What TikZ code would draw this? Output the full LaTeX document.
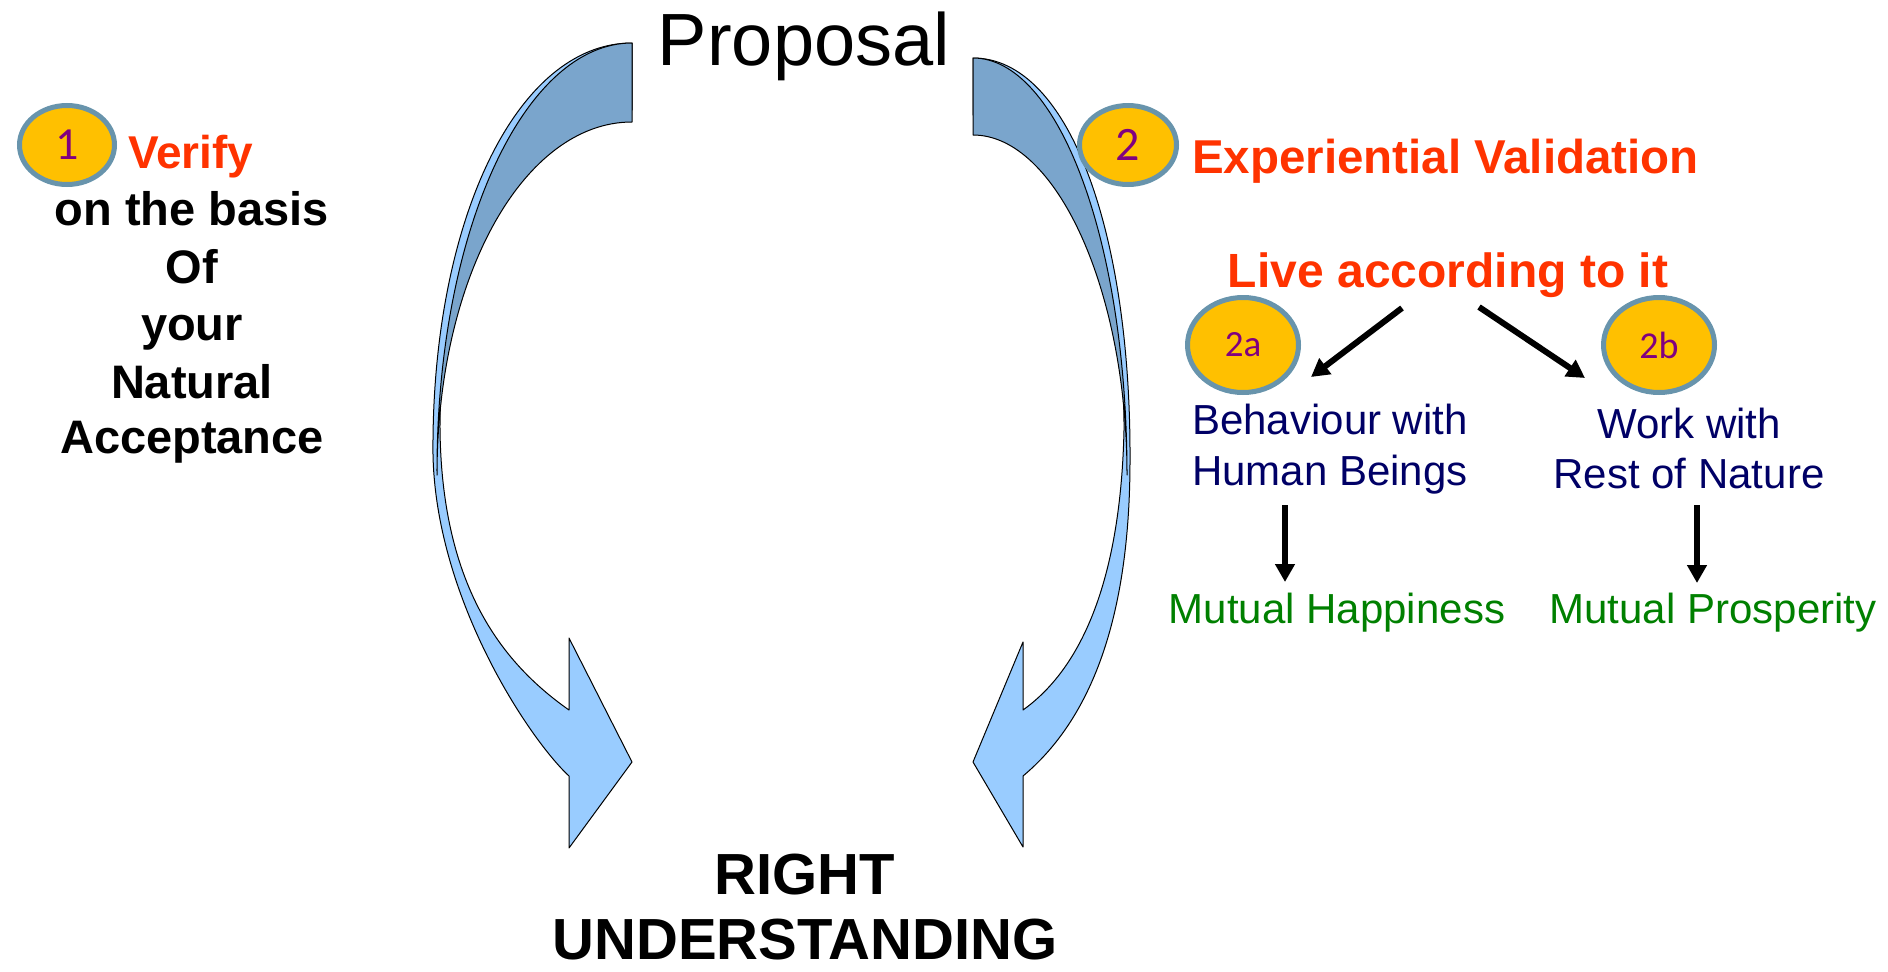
\documentclass[tikz,border=0pt]{standalone}
\usepackage{fontspec}
\setmainfont{Liberation Sans}
\newfontfamily\numfont{Carlito}
\usetikzlibrary{shapes.geometric,arrows.meta}
\definecolor{ored}{RGB}{255,51,0}
\definecolor{navyc}{RGB}{0,0,102}
\definecolor{grn}{RGB}{0,128,0}
\definecolor{purp}{RGB}{128,0,128}
\definecolor{goldc}{RGB}{255,192,0}
\definecolor{ringc}{RGB}{104,148,172}
\definecolor{lightb}{RGB}{153,204,255}
\definecolor{darkb}{RGB}{122,165,204}
\newcommand{\fsz}[1]{\fontsize{#1bp}{#1bp}\selectfont}
\begin{document}
\begin{tikzpicture}[x=1bp,y=-1bp,
  txt/.style={inner sep=0pt, outer sep=0pt, anchor=base},
  band/.style={draw=black, line width=1bp, line join=round},
  badge/.style={ellipse, draw=ringc, line width=5bp, fill=goldc, text=purp, inner sep=0pt},
  conn/.style={line width=6bp, -{Triangle[length=18bp,width=19bp]}}]
\useasboundingbox (0,0) rectangle (1888,971);

% left curved arrow
\path[band, fill=lightb] (632,43) .. controls (515,43) and (431,225) .. (433,455)
  .. controls (436,600) and (530,740) .. (569,776)
  -- (569,848) -- (632,762) -- (569,638) -- (569,710)
  .. controls (505,665) and (442,590) .. (440,430)
  .. controls (439,270) and (515,110) .. (632,110) -- cycle;
\path[band, fill=darkb] (632,43) .. controls (524,43) and (436,232) .. (437,475)
  .. controls (437,276) and (524,122) .. (632,122) -- cycle;

% right curved arrow
\path[band, fill=lightb] (973,58) .. controls (1070,58) and (1131,235) .. (1130,460)
  .. controls (1130,620) and (1090,720) .. (1023,776)
  -- (1023,847) -- (973,762) -- (1023,642) -- (1023,710)
  .. controls (1065,680) and (1120,610) .. (1124,430)
  .. controls (1125,280) and (1062,115) .. (973,115) -- cycle;
\path[band, fill=darkb] (973,58) .. controls (1058,58) and (1127,240) .. (1127,475)
  .. controls (1127,290) and (1056,135) .. (973,135) -- cycle;

% titles
\node[txt, font=\fsz{74}] (prop) at (804,65) {Proposal};
\node[txt, font=\bfseries\fsz{58}] (ru1) at (805,894) {RIGHT};
\node[txt, font=\bfseries\fsz{58}] (ru2) at (805,959) {UNDERSTANDING};

% left block
\node[badge, minimum width=95bp, minimum height=79bp, font=\numfont\fsz{46}] (b1) at (67,145) {1};
\node[txt, anchor=base west, font=\bfseries\fsz{46}, text=ored] (verify) at (128,168) {Verify};
\node[txt, font=\bfseries\fsz{47}] (l1) at (192,225) {on the basis};
\node[txt, font=\bfseries\fsz{47}] (l2) at (192,283) {Of};
\node[txt, font=\bfseries\fsz{47}] (l3) at (192,340) {your};
\node[txt, font=\bfseries\fsz{47}] (l4) at (192,398) {Natural};
\node[txt, font=\bfseries\fsz{47}] (l5) at (192,453) {Acceptance};

% right block
\node[badge, minimum width=97bp, minimum height=79bp, font=\numfont\fsz{48}] (b2) at (1128,145) {2};
\node[txt, anchor=base west, font=\bfseries\fsz{47.5}, text=ored] (exp) at (1192,173) {Experiential Validation};
\node[txt, font=\bfseries\fsz{48}, text=ored] (live) at (1448,287) {Live according to it};

\node[badge, minimum width=111bp, minimum height=95bp, font=\numfont\fsz{37}] (b2a) at (1243,345) {2a};
\node[badge, minimum width=111bp, minimum height=95bp, font=\numfont\fsz{38}] (b2b) at (1659,345) {2b};

\node[txt, font=\fsz{42}, text=navyc] (bw1) at (1330,434) {Behaviour with};
\node[txt, font=\fsz{42}, text=navyc] (bw2) at (1330,485) {Human Beings};
\node[txt, font=\fsz{42}, text=navyc] (ww1) at (1689,438) {Work with};
\node[txt, font=\fsz{42}, text=navyc] (ww2) at (1689,488) {Rest of Nature};
\node[txt, font=\fsz{42}, text=grn] (mh) at (1337,623) {Mutual Happiness};
\node[txt, font=\fsz{42}, text=grn] (mp) at (1713,623) {Mutual Prosperity};

% connectors
\coordinate (la1) at (1402,308);
\coordinate (la2) at (1311,377);
\coordinate (ra1) at (1479,307);
\coordinate (ra2) at (1585,378);
\coordinate (va1) at (1285,505);
\coordinate (va2) at (1285,582);
\coordinate (vb1) at (1697,505);
\coordinate (vb2) at (1697,583);
\draw[conn] (la1) -- (la2);
\draw[conn] (ra1) -- (ra2);
\draw[conn] (va1) -- (va2);
\draw[conn] (vb1) -- (vb2);
\end{tikzpicture}
\end{document}
